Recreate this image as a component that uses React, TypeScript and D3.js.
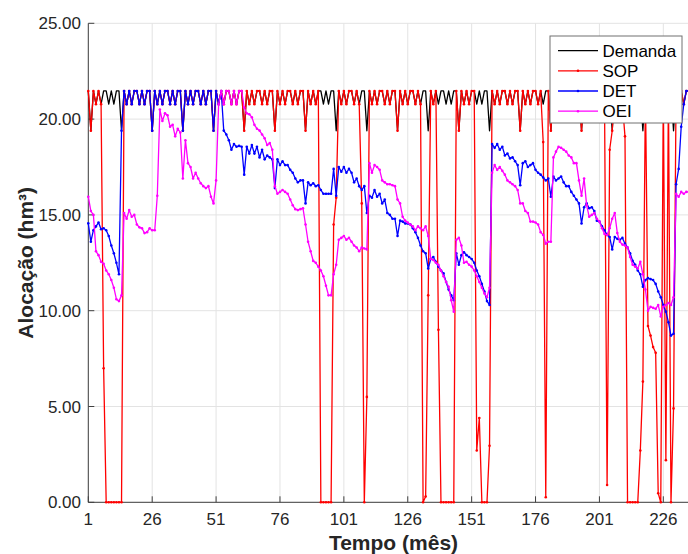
import React from 'react';
import * as d3 from 'd3';

// Monthly allocation (hm³), month 1..236
const demanda = [
  21.47, 19.39, 21.47, 20.78, 21.47, 20.78, 21.47, 21.47, 20.78, 21.47, 20.78, 21.47,
  21.47, 19.39, 21.47, 20.78, 21.47, 20.78, 21.47, 21.47, 20.78, 21.47, 20.78, 21.47,
  21.47, 19.39, 21.47, 20.78, 21.47, 20.78, 21.47, 21.47, 20.78, 21.47, 20.78, 21.47,
  21.47, 19.39, 21.47, 20.78, 21.47, 20.78, 21.47, 21.47, 20.78, 21.47, 20.78, 21.47,
  21.47, 19.39, 21.47, 20.78, 21.47, 20.78, 21.47, 21.47, 20.78, 21.47, 20.78, 21.47,
  21.47, 19.39, 21.47, 20.78, 21.47, 20.78, 21.47, 21.47, 20.78, 21.47, 20.78, 21.47,
  21.47, 19.39, 21.47, 20.78, 21.47, 20.78, 21.47, 21.47, 20.78, 21.47, 20.78, 21.47,
  21.47, 19.39, 21.47, 20.78, 21.47, 20.78, 21.47, 21.47, 20.78, 21.47, 20.78, 21.47,
  21.47, 19.39, 21.47, 20.78, 21.47, 20.78, 21.47, 21.47, 20.78, 21.47, 20.78, 21.47,
  21.47, 19.39, 21.47, 20.78, 21.47, 20.78, 21.47, 21.47, 20.78, 21.47, 20.78, 21.47,
  21.47, 19.39, 21.47, 20.78, 21.47, 20.78, 21.47, 21.47, 20.78, 21.47, 20.78, 21.47,
  21.47, 19.39, 21.47, 20.78, 21.47, 20.78, 21.47, 21.47, 20.78, 21.47, 20.78, 21.47,
  21.47, 19.39, 21.47, 20.78, 21.47, 20.78, 21.47, 21.47, 20.78, 21.47, 20.78, 21.47,
  21.47, 19.39, 21.47, 20.78, 21.47, 20.78, 21.47, 21.47, 20.78, 21.47, 20.78, 21.47,
  21.47, 19.39, 21.47, 20.78, 21.47, 20.78, 21.47, 21.47, 20.78, 21.47, 20.78, 21.47,
  21.47, 19.39, 21.47, 20.78, 21.47, 20.78, 21.47, 21.47, 20.78, 21.47, 20.78, 21.47,
  21.47, 19.39, 21.47, 20.78, 21.47, 20.78, 21.47, 21.47, 20.78, 21.47, 20.78, 21.47,
  21.47, 19.39, 21.47, 20.78, 21.47, 20.78, 21.47, 21.47, 20.78, 21.47, 20.78, 21.47,
  21.47, 19.39, 21.47, 20.78, 21.47, 20.78, 21.47, 21.47, 20.78, 21.47, 20.78, 21.47,
  21.47, 19.39, 21.47, 20.78, 21.47, 20.78, 21.47, 21.47,
];

const sop = [
  21.47, 19.39, 21.47, 20.78, 21.47, 20.78, 7.0, 0, 0, 0, 0, 0,
  0, 0, 21.47, 20.78, 21.47, 20.78, 21.47, 21.47, 20.78, 21.47, 20.78, 21.47,
  21.47, 19.39, 21.47, 20.78, 21.47, 20.78, 21.47, 21.47, 20.78, 21.47, 20.78, 21.47,
  21.47, 19.39, 21.47, 20.78, 21.47, 20.78, 21.47, 21.47, 20.78, 21.47, 20.78, 21.47,
  21.47, 19.39, 21.47, 20.78, 21.47, 20.78, 21.47, 21.47, 20.78, 21.47, 20.78, 21.47,
  21.47, 19.39, 21.47, 20.78, 21.47, 20.78, 21.47, 21.47, 20.78, 21.47, 20.78, 21.47,
  21.47, 19.39, 21.47, 20.78, 21.47, 20.78, 21.47, 21.47, 20.78, 21.47, 20.78, 21.47,
  21.47, 19.39, 21.47, 20.78, 21.47, 20.78, 21.47, 0, 0, 0, 0, 0,
  14.5, 15.9, 21.47, 20.78, 21.47, 20.78, 21.47, 21.47, 20.78, 21.47, 20.78, 15.6,
  0, 5.5, 21.47, 20.78, 21.47, 20.78, 21.47, 21.47, 20.78, 21.47, 20.78, 21.47,
  21.47, 19.39, 21.47, 20.78, 21.47, 20.78, 21.47, 21.47, 20.78, 21.47, 20.78, 0,
  0.3, 10.8, 21.47, 20.78, 21.47, 9.0, 0, 0, 0, 0, 0, 0,
  21.47, 19.39, 21.47, 20.78, 21.47, 20.78, 21.47, 21.47, 2.7, 4.4, 0, 0,
  0, 2.95, 21.47, 20.78, 21.47, 20.78, 21.47, 21.47, 20.78, 21.47, 20.78, 21.47,
  21.47, 19.39, 21.47, 20.78, 21.47, 20.78, 21.47, 21.47, 20.78, 21.47, 18.8, 0.26,
  21.47, 19.39, 21.47, 20.78, 21.47, 20.78, 21.47, 21.47, 20.78, 21.47, 20.78, 21.47,
  21.47, 19.39, 21.47, 20.78, 21.47, 20.78, 21.47, 21.47, 20.78, 21.47, 20.78, 0.9,
  18.4, 19.39, 21.47, 20.78, 21.47, 20.78, 19.1, 0, 0, 0, 0, 0,
  2.7, 6.3, 21.47, 9.2, 8.7, 8.1, 7.8, 0.47, 0, 21.47, 2.2, 21.47,
  0, 4.9, 21.47, 20.78, 21.47, 20.78, 21.47, 21.47,
];

const det = [
  14.56, 13.6, 14.2, 14.4, 14.6, 14.25, 14.3, 14.2, 13.9, 13.4, 13.0, 12.5,
  11.9, 19.39, 21.47, 20.78, 21.47, 20.78, 21.47, 21.47, 20.78, 21.47, 20.78, 21.47,
  21.47, 19.39, 21.47, 20.78, 21.47, 20.78, 21.47, 21.47, 20.78, 21.47, 20.78, 21.47,
  21.47, 19.39, 21.47, 20.78, 21.47, 20.78, 21.47, 21.47, 20.78, 21.47, 20.78, 21.47,
  21.47, 19.39, 21.47, 20.78, 21.47, 19.4, 19.2, 18.9, 18.4, 18.7, 18.56, 18.6,
  18.56, 17.1, 18.56, 18.2, 18.65, 18.2, 18.56, 18.0, 18.4, 17.9, 18.1, 18.0,
  17.9, 16.4, 17.9, 17.6, 17.8, 17.6, 17.6, 17.35, 17.2, 16.9, 16.7, 16.8,
  16.8, 15.6, 16.7, 16.55, 16.65, 16.5, 16.55, 16.3, 16.1, 16.1, 16.1, 16.1,
  17.4, 16.0, 17.5, 17.25, 17.5, 17.2, 17.4, 17.2, 16.7, 16.9, 16.5, 16.3,
  16.5, 15.1, 16.0, 15.9, 16.3, 15.95, 16.1, 15.6, 15.8, 15.1, 15.0, 14.8,
  14.8, 13.9, 14.7, 14.65, 14.55, 14.55, 14.5, 14.3, 14.1, 13.8, 13.4, 13.1,
  13.0, 12.2, 12.7, 12.8, 12.55, 12.3, 12.1, 11.95, 11.5, 11.1, 10.8, 10.55,
  13.0, 12.4, 12.9, 13.05, 12.9, 12.8, 12.7, 12.5, 12.1, 11.8, 11.4, 11.0,
  10.5, 10.3, 18.7, 18.5, 18.7, 18.4, 18.56, 18.1, 18.2, 17.95, 18.0, 17.8,
  17.6, 16.55, 17.7, 17.8, 17.5, 17.6, 17.7, 17.35, 17.2, 17.1, 16.95, 16.8,
  16.9, 15.95, 17.0, 16.8, 16.9, 17.0, 16.7, 16.5, 16.5, 16.2, 16.0, 15.8,
  15.6, 14.55, 15.4, 15.6, 15.35, 15.4, 15.2, 14.7, 14.65, 14.4, 14.2, 13.95,
  13.85, 13.2, 13.85, 13.75, 13.7, 13.8, 13.5, 13.3, 13.0, 12.6, 12.4, 12.1,
  11.9, 11.25, 11.6, 11.7, 11.65, 11.6, 11.4, 11.0, 10.7, 10.3, 9.95, 9.4,
  8.7, 8.8, 16.6, 17.4, 19.6, 20.78, 21.47, 21.47,
];

const oei = [
  15.95, 15.2, 15.0, 13.1, 12.9, 12.55, 12.45, 12.1, 11.9, 11.6, 11.2, 10.6,
  10.5, 10.8, 15.1, 14.8, 15.25, 14.9, 15.0, 14.5, 14.35, 14.3, 14.05, 14.1,
  14.3, 14.2, 14.2, 16.0, 20.5, 19.9, 20.3, 20.2, 19.6, 19.7, 19.1, 19.5,
  19.3, 16.9, 18.9, 17.7, 17.5, 16.9, 17.2, 16.9, 16.65, 16.5, 16.4, 16.5,
  15.95, 15.6, 16.8, 20.78, 21.47, 20.78, 21.47, 21.47, 20.78, 21.47, 20.78, 21.47,
  21.47, 20.6, 20.3, 20.25, 20.1, 19.7, 19.5, 19.4, 19.2, 19.0, 18.65, 18.75,
  18.4, 16.5, 16.1, 16.2, 16.3, 16.2, 16.1, 15.8, 15.5, 15.3, 15.25, 15.3,
  15.35, 14.5, 13.6, 13.1, 12.6, 12.5, 12.3, 12.1, 11.8, 11.3, 10.8, 10.8,
  11.9, 12.4, 13.7, 13.8, 13.9, 13.7, 13.8, 13.6, 13.4, 13.3, 13.1, 13.3,
  13.25, 13.2, 17.7, 17.2, 17.6, 17.5, 17.35, 16.8, 16.7, 16.6, 16.6, 16.55,
  16.5, 15.8, 15.6, 14.9, 14.7, 14.6, 14.5, 14.4, 14.2, 14.4, 14.3, 14.2,
  14.4, 13.9, 12.7, 12.65, 12.5, 12.4, 12.1, 11.8, 11.5, 11.25, 10.55, 9.95,
  13.7, 13.8, 13.4, 12.5, 12.55, 12.4, 12.3, 12.1, 11.8, 11.5, 11.2, 10.9,
  10.7, 11.2, 17.2, 17.6, 17.35, 17.5, 17.3, 17.1, 16.8, 16.7, 16.6, 16.5,
  16.3, 15.6, 15.6, 15.2, 15.1, 14.65, 14.65, 14.6, 14.5, 14.1, 13.95, 13.5,
  13.6, 13.6, 18.0, 18.3, 18.55, 18.5, 18.4, 18.3, 18.1, 18.0, 17.7, 17.7,
  16.8, 16.0, 16.9, 15.5, 14.9, 15.0, 15.1, 14.8, 14.65, 14.3, 14.0, 13.95,
  14.3, 14.8, 15.1, 14.05, 13.6, 13.45, 13.4, 13.3, 12.8, 12.4, 12.3, 12.2,
  12.55, 11.9, 11.1, 10.0, 10.2, 10.15, 10.1, 10.3, 9.7, 10.2, 10.3, 10.4,
  10.3, 10.7, 16.1, 15.95, 16.2, 16.1, 16.2, 16.2,
];

const xTicks = [1, 26, 51, 76, 101, 126, 151, 176, 201, 226];
const yTicks = [0, 5, 10, 15, 20, 25];
const seriesNames = ['Demanda', 'SOP', 'DET', 'OEI'];
const seriesColors = ['#000000', '#ff0000', '#0000ff', '#ff00ff'];
const seriesMarkers = [false, true, true, true];

const FONT = '"Liberation Sans", Arial, Helvetica, sans-serif';

export default function App() {
  const W = 688;
  const H = 554;
  const x = d3.scaleLinear().domain([1, 240]).range([88.3, 699.1]);
  const y = d3.scaleLinear().domain([0, 25]).range([502.3, 23.3]);
  const series = [demanda, sop, det, oei];
  const line = d3
    .line<number>()
    .x((_, i) => x(i + 1))
    .y((d) => y(d));

  const left = x(1);
  const right = x(240);
  const top = y(25);
  const bottom = y(0);

  const legX = 550;
  const legY = 36;
  const legW = 132;
  const legH = 87;
  const rowY = [50.6, 70.8, 91.0, 111.2];

  return (
    <svg
      width={W}
      height={H}
      style={{ position: 'absolute', left: 0, top: 0, overflow: 'hidden', background: '#fff' }}
      fontFamily={FONT}
    >
      <rect x={0} y={0} width={W} height={H} fill="#ffffff" />
      {/* grid */}
      <g stroke="#e3e3e3" strokeWidth={1}>
        {xTicks.map((t) => (
          <line key={'gx' + t} x1={x(t)} x2={x(t)} y1={top} y2={bottom} />
        ))}
        {yTicks.map((t) => (
          <line key={'gy' + t} x1={left} x2={right} y1={y(t)} y2={y(t)} />
        ))}
      </g>
      {/* axes */}
      <g stroke="#404040" strokeWidth={1}>
        <line x1={left} x2={left} y1={top} y2={bottom} />
        <line x1={left} x2={right} y1={bottom} y2={bottom} />
        {xTicks.map((t) => (
          <line key={'tx' + t} x1={x(t)} x2={x(t)} y1={bottom} y2={bottom - 6} />
        ))}
        {yTicks.map((t) => (
          <line key={'ty' + t} x1={left} x2={left + 6} y1={y(t)} y2={y(t)} />
        ))}
      </g>
      <g fill="#262626" fontSize={17}>
        {xTicks.map((t) => (
          <text key={'lx' + t} x={x(t)} y={524.5} textAnchor="middle">
            {t}
          </text>
        ))}
        {yTicks.map((t) => (
          <text key={'ly' + t} x={81} y={y(t) + 6} textAnchor="end">
            {t.toFixed(2)}
          </text>
        ))}
      </g>
      {/* series */}
      {series.map((s, k) => (
        <g key={'s' + k}>
          <path d={line(s) || ''} fill="none" stroke={seriesColors[k]} strokeWidth={1.3} strokeLinejoin="round" />
          {seriesMarkers[k] &&
            s.map((v, i) => (
              <circle key={i} cx={x(i + 1)} cy={y(v)} r={1.3} fill={seriesColors[k]} />
            ))}
        </g>
      ))}
      {/* axis titles */}
      <text x={393.5} y={550} textAnchor="middle" fontSize={21} fontWeight="bold" fill="#262626">
        Tempo (mês)
      </text>
      <text
        transform={`translate(33, ${(top + bottom) / 2}) rotate(-90)`}
        textAnchor="middle"
        fontSize={21}
        fontWeight="bold"
        fill="#262626"
      >
        Alocação (hm³)
      </text>
      {/* legend */}
      <rect x={legX} y={legY} width={legW} height={legH} fill="#ffffff" stroke="#707070" strokeWidth={1} />
      {seriesNames.map((name, k) => (
        <g key={'leg' + k}>
          <line x1={558} x2={598} y1={rowY[k]} y2={rowY[k]} stroke={seriesColors[k]} strokeWidth={1.3} />
          {seriesMarkers[k] && <circle cx={578} cy={rowY[k]} r={1.3} fill={seriesColors[k]} />}
          <text x={602.5} y={rowY[k] + 6} fontSize={17} fill="#000">
            {name}
          </text>
        </g>
      ))}
    </svg>
  );
}
